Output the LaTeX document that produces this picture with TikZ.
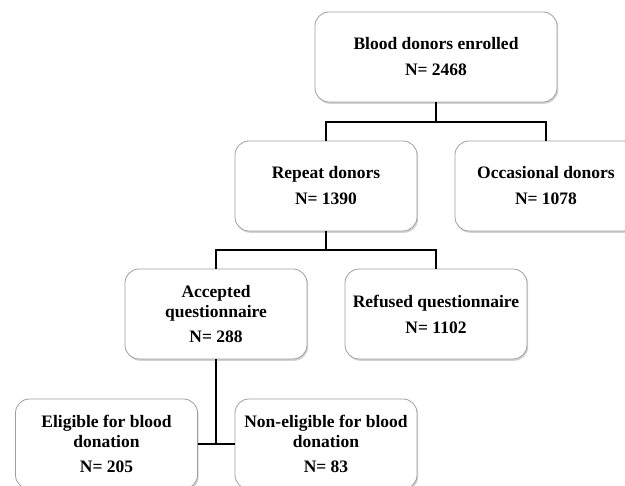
\documentclass[tikz,border=0pt]{standalone}
\usepackage{fontspec}
\setmainfont{Liberation Serif}
\usetikzlibrary{shadows}

\begin{document}
\begin{tikzpicture}[x=1pt, y=-1pt,
    flowbox/.style={draw=gray!75, line width=0.8pt, fill=white, rounded corners=14pt,
        minimum width=182pt, minimum height=90pt, inner sep=0pt, align=center,
        font=\fontsize{17.5}{20}\bfseries\selectfont,
        drop shadow={shadow xshift=1.2pt, shadow yshift=-1.8pt, opacity=0.35}},
    link/.style={line width=1.6pt, black}]
    \clip (0,0) rectangle (625,486);
    \fill[white] (0,0) rectangle (625,486);
    % boxes
    \node[flowbox, minimum width=242pt] (enrolled) at (436,57) {Blood donors enrolled\\[6pt]N= 2468};
    \node[flowbox] (repeat) at (326,186) {Repeat donors\\[6pt]N= 1390};
    \node[flowbox] (occasional) at (546,186) {Occasional donors\\[6pt]N= 1078};
    \node[flowbox] (accepted) at (216,314) {Accepted\\questionnaire\\[5pt]N= 288};
    \node[flowbox] (refused) at (436,314) {Refused questionnaire\\[6pt]N= 1102};
    \node[flowbox] (eligible) at (106.5,444) {Eligible for blood\\donation\\[5pt]N= 205};
    \node[flowbox] (noneligible) at (326,444) {Non-eligible for blood\\donation\\[5pt]N= 83};
    % connectors
    \coordinate (split1) at (436,122);
    \coordinate (split2) at (326,250);
    \draw[link] (enrolled.south) -- (split1);
    \draw[link] (repeat.north) |- (split1) -| (occasional.north);
    \draw[link] (repeat.south) -- (split2);
    \draw[link] (accepted.north) |- (split2) -| (refused.north);
    \draw[link] (accepted.south) -- (accepted.south |- eligible.east);
    \draw[link] (eligible.east) -- (noneligible.west);
\end{tikzpicture}
\end{document}
